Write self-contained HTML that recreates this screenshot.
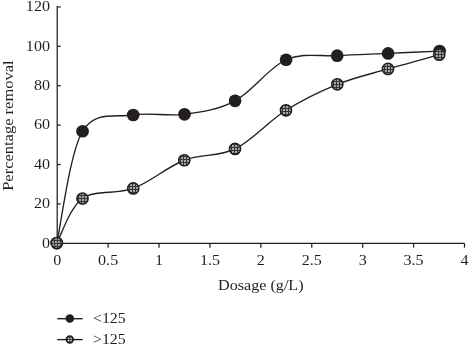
<!DOCTYPE html>
<html><head><meta charset="utf-8"><title>chart</title>
<style>html,body{margin:0;padding:0;background:#fff;overflow:hidden}svg{display:block}</style>
</head><body>
<svg width="469" height="344" viewBox="0 0 469 344">
<defs>
<pattern id="h" width="3" height="3" patternUnits="userSpaceOnUse" x="0" y="0">
<rect width="3" height="3" fill="#383435"/><rect x="1.15" y="1.15" width="1.7" height="1.7" fill="#d0d0d0"/>
</pattern>
<filter id="b" x="-20%" y="-20%" width="140%" height="140%"><feGaussianBlur stdDeviation="0.45"/></filter>
</defs>
<rect width="469" height="344" fill="#fff"/>
<g stroke="#231f20" stroke-width="1.25" fill="none">
<path d="M57.20 6.30 V243.35 H464.50"/>
<path d="M57.20 243.35 h3.5"/>
<path d="M57.20 203.94 h3.5"/>
<path d="M57.20 164.53 h3.5"/>
<path d="M57.20 125.12 h3.5"/>
<path d="M57.20 85.72 h3.5"/>
<path d="M57.20 46.31 h3.5"/>
<path d="M57.20 6.90 h3.5"/>
<path d="M57.20 243.35 v4.3"/>
<path d="M108.11 243.35 v4.3"/>
<path d="M159.03 243.35 v4.3"/>
<path d="M209.94 243.35 v4.3"/>
<path d="M260.85 243.35 v4.3"/>
<path d="M311.76 243.35 v4.3"/>
<path d="M362.68 243.35 v4.3"/>
<path d="M413.59 243.35 v4.3"/>
<path d="M464.50 243.35 v4.3"/>
</g>
<g font-family="'Liberation Serif', serif" fill="#231f20">
<text transform="translate(50.00,247.65) scale(1.060,1)" font-size="15.20px" text-anchor="end">0</text>
<text transform="translate(50.00,208.24) scale(1.060,1)" font-size="15.20px" text-anchor="end">20</text>
<text transform="translate(50.00,168.83) scale(1.060,1)" font-size="15.20px" text-anchor="end">40</text>
<text transform="translate(50.00,129.43) scale(1.060,1)" font-size="15.20px" text-anchor="end">60</text>
<text transform="translate(50.00,90.02) scale(1.060,1)" font-size="15.20px" text-anchor="end">80</text>
<text transform="translate(50.00,50.61) scale(1.060,1)" font-size="15.20px" text-anchor="end">100</text>
<text transform="translate(50.00,11.20) scale(1.060,1)" font-size="15.20px" text-anchor="end">120</text>
<text transform="translate(57.20,265.20) scale(1.060,1)" font-size="15.20px" text-anchor="middle">0</text>
<text transform="translate(108.11,265.20) scale(1.060,1)" font-size="15.20px" text-anchor="middle">0.5</text>
<text transform="translate(159.03,265.20) scale(1.060,1)" font-size="15.20px" text-anchor="middle">1</text>
<text transform="translate(209.94,265.20) scale(1.060,1)" font-size="15.20px" text-anchor="middle">1.5</text>
<text transform="translate(260.85,265.20) scale(1.060,1)" font-size="15.20px" text-anchor="middle">2</text>
<text transform="translate(311.76,265.20) scale(1.060,1)" font-size="15.20px" text-anchor="middle">2.5</text>
<text transform="translate(362.68,265.20) scale(1.060,1)" font-size="15.20px" text-anchor="middle">3</text>
<text transform="translate(413.59,265.20) scale(1.060,1)" font-size="15.20px" text-anchor="middle">3.5</text>
<text transform="translate(464.50,265.20) scale(1.060,1)" font-size="15.20px" text-anchor="middle">4</text>
<text transform="translate(260.80,290.30) scale(1.076,1)" font-size="15.00px" text-anchor="middle">Dosage (g/L)</text>
<text transform="translate(12.70,125.60) rotate(-90) scale(1.100,1)" font-size="15.00px" text-anchor="middle">Percentage removal</text>
<text transform="translate(93.00,323.20) scale(1.072,1)" font-size="14.80px" text-anchor="start">&lt;125</text>
<text transform="translate(93.00,344.00) scale(1.072,1)" font-size="14.80px" text-anchor="start">&gt;125</text>
</g>
<g stroke="#231f20" stroke-width="1.35" fill="none">
<path d="M56.80 243.05 C61.09 224.42 69.82 152.59 82.55 131.25 C95.28 109.91 116.21 117.83 133.20 115.00 C150.19 112.17 167.52 116.67 184.50 114.30 C201.48 111.93 218.17 109.89 235.10 100.80 C252.03 91.71 269.08 67.28 286.10 59.75 C303.12 52.23 320.20 56.71 337.20 55.65 C354.20 54.59 371.03 54.17 388.10 53.40 C405.17 52.63 431.02 51.44 439.60 51.05"/>
<path d="M56.80 243.05 C61.08 235.62 69.76 207.60 82.50 198.50 C95.24 189.40 116.28 194.83 133.25 188.45 C150.22 182.08 167.34 166.84 184.30 160.25 C201.26 153.66 218.06 157.22 235.00 148.90 C251.94 140.58 268.92 121.06 285.97 110.30 C303.02 99.54 320.30 91.24 337.30 84.35 C354.31 77.46 371.02 73.90 388.00 68.95 C404.98 64.00 430.67 57.03 439.20 54.65"/>
</g>
<circle cx="56.80" cy="243.05" r="6.35" fill="#231f20"/>
<circle cx="82.55" cy="131.25" r="6.35" fill="#231f20"/>
<circle cx="133.20" cy="115.00" r="6.35" fill="#231f20"/>
<circle cx="184.50" cy="114.30" r="6.35" fill="#231f20"/>
<circle cx="235.10" cy="100.80" r="6.35" fill="#231f20"/>
<circle cx="286.10" cy="59.75" r="6.35" fill="#231f20"/>
<circle cx="337.20" cy="55.65" r="6.35" fill="#231f20"/>
<circle cx="388.10" cy="53.40" r="6.35" fill="#231f20"/>
<circle cx="439.60" cy="51.05" r="6.35" fill="#231f20"/>
<circle cx="56.80" cy="243.05" r="5.85" fill="url(#h)" filter="url(#b)"/>
<circle cx="56.80" cy="243.05" r="5.60" fill="none" stroke="#231f20" stroke-width="1.5"/>
<circle cx="82.50" cy="198.50" r="5.85" fill="url(#h)" filter="url(#b)"/>
<circle cx="82.50" cy="198.50" r="5.60" fill="none" stroke="#231f20" stroke-width="1.5"/>
<circle cx="133.25" cy="188.45" r="5.85" fill="url(#h)" filter="url(#b)"/>
<circle cx="133.25" cy="188.45" r="5.60" fill="none" stroke="#231f20" stroke-width="1.5"/>
<circle cx="184.30" cy="160.25" r="5.85" fill="url(#h)" filter="url(#b)"/>
<circle cx="184.30" cy="160.25" r="5.60" fill="none" stroke="#231f20" stroke-width="1.5"/>
<circle cx="235.00" cy="148.90" r="5.85" fill="url(#h)" filter="url(#b)"/>
<circle cx="235.00" cy="148.90" r="5.60" fill="none" stroke="#231f20" stroke-width="1.5"/>
<circle cx="285.97" cy="110.30" r="5.85" fill="url(#h)" filter="url(#b)"/>
<circle cx="285.97" cy="110.30" r="5.60" fill="none" stroke="#231f20" stroke-width="1.5"/>
<circle cx="337.30" cy="84.35" r="5.85" fill="url(#h)" filter="url(#b)"/>
<circle cx="337.30" cy="84.35" r="5.60" fill="none" stroke="#231f20" stroke-width="1.5"/>
<circle cx="388.00" cy="68.95" r="5.85" fill="url(#h)" filter="url(#b)"/>
<circle cx="388.00" cy="68.95" r="5.60" fill="none" stroke="#231f20" stroke-width="1.5"/>
<circle cx="439.20" cy="54.65" r="5.85" fill="url(#h)" filter="url(#b)"/>
<circle cx="439.20" cy="54.65" r="5.60" fill="none" stroke="#231f20" stroke-width="1.5"/>
<g stroke="#231f20" stroke-width="1.4" fill="none">
<path d="M57.2 318.7 H82.6"/><path d="M57.2 339.6 H82.6"/></g>
<circle cx="69.8" cy="318.6" r="4.25" fill="#231f20"/>
<circle cx="69.8" cy="339.5" r="3.25" fill="#e6e6e6" stroke="#231f20" stroke-width="1.9"/>
<path d="M66.6 339.5 H73 M69.8 336.3 V342.7" stroke="#231f20" stroke-width="1.2" stroke-opacity="0.85" fill="none"/>
</svg>
</body></html>
